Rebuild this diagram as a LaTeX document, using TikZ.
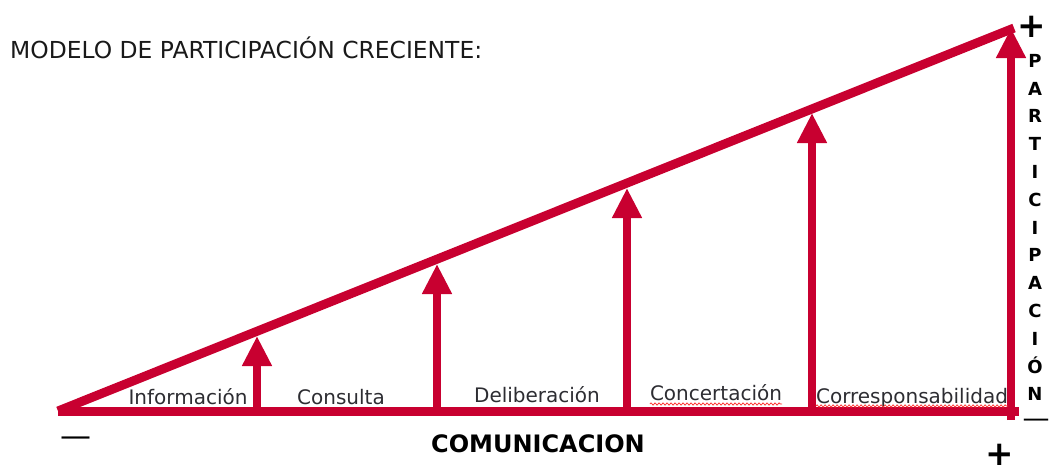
\documentclass[tikz,border=0pt]{standalone}
\usepackage{fontspec}
\setmainfont{DejaVu Sans}
\usetikzlibrary{arrows.meta,decorations.pathmorphing}
\definecolor{crim}{RGB}{200,0,48}
\definecolor{txt}{RGB}{45,45,50}
\begin{document}
\begin{tikzpicture}[x=1pt,y=-1pt,
  redline/.style={draw=crim,line width=9pt},
  uparrow/.style={draw=crim,line width=8pt,-{Triangle[width=28pt,length=30pt]}},
  lab/.style={font=\fontsize{20}{20}\selectfont,text=txt,anchor=base,inner sep=0pt},
  sign/.style={font=\bfseries\fontsize{34}{34}\selectfont,anchor=center,inner sep=0pt},
  dashsign/.style={font=\fontsize{31}{31}\selectfont,anchor=center,inner sep=0pt},
  spell/.style={draw=red!80,line width=0.8pt,decorate,decoration={snake,segment length=4pt,amplitude=1.1pt}}]
\useasboundingbox (0,0) rectangle (1050,467);
% main triangle
\coordinate (O) at (58,411);
\coordinate (E) at (1019,411);
\coordinate (T) at (1014,28);
\draw[redline] (O) -- (E);
\draw[redline] (O) -- (T);
% arrows
\coordinate (b1) at (257,411); \coordinate (t1) at (257,336);
\coordinate (b2) at (437,411); \coordinate (t2) at (437,264);
\coordinate (b3) at (627,411); \coordinate (t3) at (627,188);
\coordinate (b4) at (812,411); \coordinate (t4) at (812,113);
\coordinate (b5) at (1011,420); \coordinate (t5) at (1011,28);
\foreach \i in {1,...,5} \draw[uparrow] (b\i) -- (t\i);
% title
\node[font=\fontsize{23.4}{23.4}\selectfont,text=black!90,anchor=base west,inner sep=0pt] (title) at (10,58) {MODELO DE PARTICIPACIÓN CRECIENTE:};
% labels
\node[lab] (l1) at (188,404) {Información};
\node[lab] (l2) at (341,404) {Consulta};
\node[lab] (l3) at (537,402) {Deliberación};
\node[lab] (l4) at (716,400) {Concertación};
\node[lab] (l5) at (912,403) {Corresponsabilidad};
\draw[spell] (l4.base west) ++(0,4) -- (l4.base east |- 0,404);
\draw[spell] (l5.base west) ++(0,3) -- (l5.base east |- 0,406);
% axis titles
\node[font=\bfseries\fontsize{24}{24}\selectfont,text=black,anchor=base,inner sep=0pt] (com) at (538,452) {COMUNICACION};
\node[font=\bfseries\fontsize{18}{27.8}\selectfont,align=center,inner sep=0pt,anchor=north] (part) at (1035,54)
  {P\\A\\R\\T\\I\\C\\I\\P\\A\\C\\I\\Ó\\N};
% signs
\node[sign] (plustop) at (1032,27) {+};
\node[sign] (plusbot) at (1000,455) {+};
\node[dashsign] (minus) at (76,442) {—};
\node[dashsign,font=\fontsize{27}{27}\selectfont] (dashr) at (1036,423) {—};
\end{tikzpicture}
\end{document}
